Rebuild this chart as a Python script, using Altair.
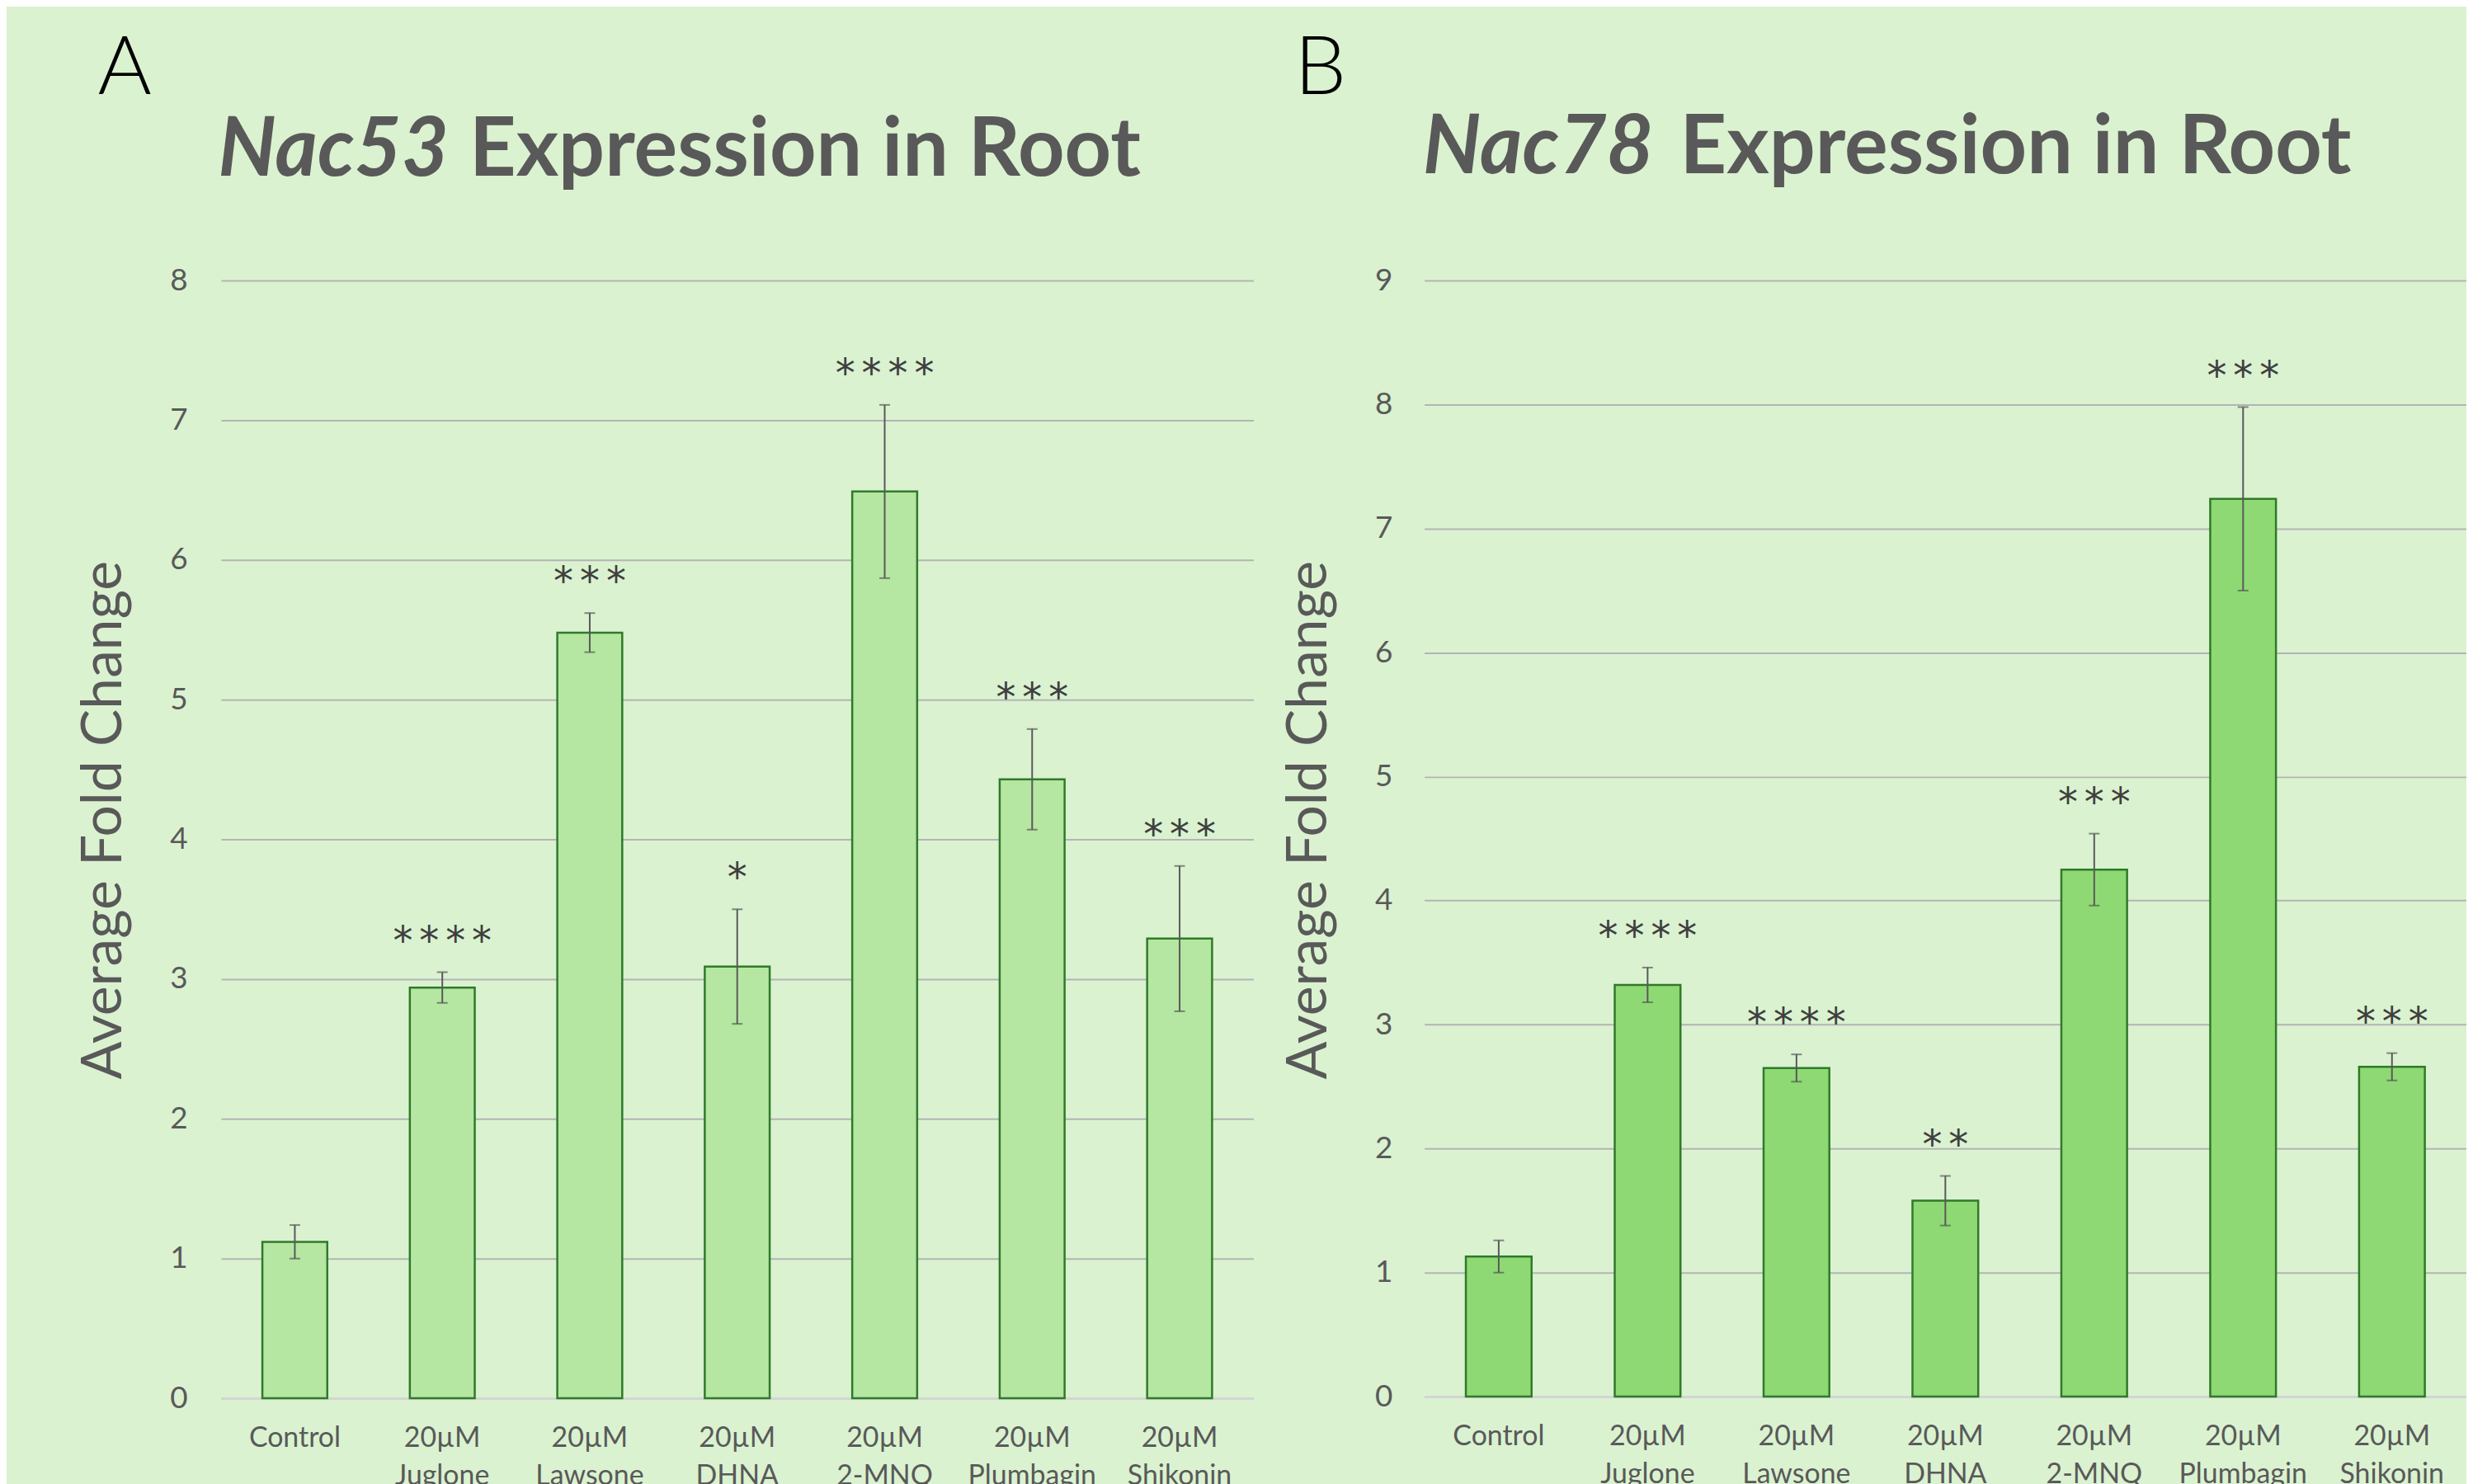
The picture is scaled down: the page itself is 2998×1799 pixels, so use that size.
import altair as alt
import pandas as pd

# ---------------- data ----------------
categories = ["Control", "20µM Juglone", "20µM Lawsone", "20µM DHNA",
              "20µM 2-MNQ", "20µM Plumbagin", "20µM Shikonin"]

nac53_mean = [1.12, 2.94, 5.48, 3.09, 6.49, 4.43, 3.29]
nac53_err = [0.12, 0.11, 0.14, 0.41, 0.62, 0.36, 0.52]
nac53_sig = ["", "****", "***", "*", "****", "***", "***"]

nac78_mean = [1.13, 3.32, 2.65, 1.58, 4.25, 7.24, 2.66]
nac78_err = [0.13, 0.14, 0.11, 0.20, 0.29, 0.74, 0.11]
nac78_sig = ["", "****", "****", "**", "***", "***", "***"]

ticks_a = [0, 1, 2, 3, 4, 5, 6, 7, 8]
ticks_b = [0, 1, 2, 3, 4, 5, 6, 7, 8, 9]

FONT = "Lato"
GREY = "#595959"
BG = "#DAF2D0"
EDGE = "#2F7A2A"
YTITLE = "Average Fold Change"


def panel(means, errs, sigs, ticks, bar_color, gene, letter, w, h, bar_size,
          title_x, title_y, lab_pad, letter_x, letter_y, gene_right, rest_x, head_y):
    df = pd.DataFrame({
        "cat": categories,
        "mean": means,
        "lo": [m - e for m, e in zip(means, errs)],
        "hi": [m + e for m, e in zip(means, errs)],
        "sig": ["\u2006".join(s) for s in sigs],
    })
    yscale = alt.Scale(domain=[0, ticks[-1]], nice=False)
    yaxis = alt.Axis(values=ticks, ticks=False, domain=False, grid=True,
                     gridColor="#B4B4B4", gridWidth=2, labelFont=FONT, labelFontSize=37,
                     labelColor=GREY, labelPadding=lab_pad,
                     titleFont=FONT, titleFontSize=68, titleFontWeight="normal",
                     titleColor=GREY, titleAngle=270, titleAlign="center",
                     titleBaseline="middle", titleX=title_x, titleY=title_y)
    x = alt.X("cat:N", sort=categories, title=None,
              scale=alt.Scale(paddingInner=0, paddingOuter=0),
              axis=alt.Axis(labelExpr="split(datum.label, ' ')", labelAngle=0,
                            labelFont=FONT, labelFontSize=34, labelColor=GREY,
                            labelLineHeight=46, labelPadding=32, ticks=False,
                            domain=True, domainColor="#D4D4D4", domainWidth=3))
    base = alt.Chart(df)
    bars = base.mark_bar(size=bar_size, color=bar_color, stroke=EDGE, strokeWidth=2.5).encode(
        x=x, y=alt.Y("mean:Q", scale=yscale, title=YTITLE, axis=yaxis))
    rules = base.mark_rule(color=GREY, strokeWidth=2).encode(
        x=x, y=alt.Y("lo:Q", scale=yscale, title=YTITLE, axis=yaxis), y2="hi:Q")
    cap_hi = base.mark_tick(size=13, thickness=2, color=GREY).encode(
        x=x, y=alt.Y("hi:Q", scale=yscale, title=YTITLE, axis=yaxis))
    cap_lo = base.mark_tick(size=13, thickness=2, color=GREY).encode(
        x=x, y=alt.Y("lo:Q", scale=yscale, title=YTITLE, axis=yaxis))
    stars = base.mark_text(font="DejaVu Sans", fontSize=48, color="#3F3F3F", dy=-22,
                           baseline="alphabetic").encode(
        x=x, y=alt.Y("hi:Q", scale=yscale, title=YTITLE, axis=yaxis), text="sig:N")

    head = alt.Chart(pd.DataFrame({"t": [letter]})).mark_text(
        font=FONT, fontSize=100, fontWeight=300, color="#000000", align="left",
        baseline="alphabetic").encode(x=alt.value(letter_x), y=alt.value(letter_y), text="t:N")
    gene_t = alt.Chart(pd.DataFrame({"t": [gene]})).mark_text(
        font=FONT, fontSize=99, fontWeight="bold", fontStyle="italic", color=GREY,
        align="right", baseline="alphabetic").encode(
        x=alt.value(gene_right), y=alt.value(head_y), text="t:N")
    rest_t = alt.Chart(pd.DataFrame({"t": ["Expression in Root"]})).mark_text(
        font=FONT, fontSize=99, fontWeight="bold", color=GREY,
        align="left", baseline="alphabetic").encode(
        x=alt.value(rest_x), y=alt.value(head_y), text="t:N")

    return alt.layer(bars, rules, cap_hi, cap_lo, stars, head, gene_t, rest_t).properties(
        width=w, height=h)


pa = panel(nac53_mean, nac53_err, nac53_sig, ticks_a, "#B5E6A2", "Nac53", "A",
           1256, 1360, 79, -142, 656, 41, -150, -227, 277, 302, -128)
pb = panel(nac78_mean, nac78_err, nac78_sig, ticks_b, "#8ED973", "Nac78", "B",
           1268, 1358, 80, -140, 656, 39, -158, -227, 279, 311, -131)

chart = alt.hconcat(pa, pb, spacing=34).resolve_scale(y="independent").configure(
    background=BG,
    padding={"left": 85, "top": 23, "right": 0, "bottom": 0},
    font=FONT,
).configure_view(stroke=None)

chart.save("out.html", embed_options={"renderer": "svg", "actions": False})
